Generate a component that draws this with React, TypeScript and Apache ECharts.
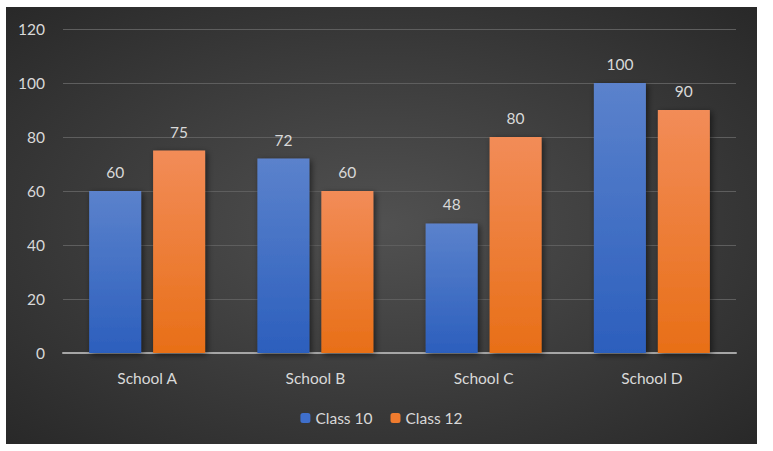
import React, { useEffect, useRef } from "react";
import * as echarts from "echarts";

const categories = ["School A", "School B", "School C", "School D"];
const class10 = [60, 72, 48, 100];
const class12 = [75, 60, 80, 90];
const seriesNames = ["Class 10", "Class 12"];

const FONT = "Lato";

export default function App() {
  const ref = useRef<HTMLDivElement>(null);
  useEffect(() => {
    if (!ref.current) return;
    const chart = echarts.init(ref.current, undefined, { renderer: "svg" });
    const blue = new echarts.graphic.LinearGradient(0, 0, 0, 1, [
      { offset: 0, color: "#5b82cc" },
      { offset: 1, color: "#2c5fbd" },
    ]);
    const orange = new echarts.graphic.LinearGradient(0, 0, 0, 1, [
      { offset: 0, color: "#f28c58" },
      { offset: 1, color: "#e86f17" },
    ]);
    const label = {
      show: true,
      position: "top" as const,
      distance: 11,
      color: "#d9d9d9",
      fontSize: 15.5,
      fontFamily: FONT,
    };
    const itemShadow = {
      shadowBlur: 6,
      shadowColor: "rgba(0,0,0,0.55)",
      shadowOffsetX: 2,
      shadowOffsetY: 2,
    };
    chart.setOption({
      animation: false,
      backgroundColor: new echarts.graphic.RadialGradient(0.5, 0.5, 0.75, [
        { offset: 0, color: "#515151" },
        { offset: 1, color: "#262626" },
      ]),
      grid: { left: 57, right: 21, top: 22, bottom: 91 },
      legend: {
        bottom: 13,
        left: "center",
        itemWidth: 10,
        itemHeight: 10,
        itemGap: 18,
        textStyle: { color: "#d9d9d9", fontSize: 15.5, fontFamily: FONT },
        data: [
          { name: seriesNames[0], itemStyle: { color: "#3f6fcb" } },
          { name: seriesNames[1], itemStyle: { color: "#ef7b2e" } },
        ],
      },
      xAxis: {
        type: "category",
        data: categories,
        axisLine: { lineStyle: { color: "#a6a6a6", width: 2 } },
        axisTick: { show: false },
        axisLabel: { color: "#d9d9d9", fontSize: 15.5, fontFamily: FONT, margin: 17 },
      },
      yAxis: {
        type: "value",
        min: 0,
        max: 120,
        interval: 20,
        axisLine: { show: false },
        axisTick: { show: false },
        axisLabel: { color: "#d9d9d9", fontSize: 15.5, fontFamily: FONT, margin: 18 },
        splitLine: { lineStyle: { color: "#5e5e5e", width: 1 } },
      },
      series: [
        {
          name: seriesNames[0],
          type: "bar",
          data: class10,
          barWidth: 52,
          barGap: "23%",
          itemStyle: { color: blue, ...itemShadow },
          label,
        },
        {
          name: seriesNames[1],
          type: "bar",
          data: class12,
          barWidth: 52,
          itemStyle: { color: orange, ...itemShadow },
          label,
        },
      ],
    });
    return () => chart.dispose();
  }, []);
  return (
    <div
      ref={ref}
      style={{ position: "absolute", left: 6, top: 7, width: 751, height: 437 }}
    />
  );
}
